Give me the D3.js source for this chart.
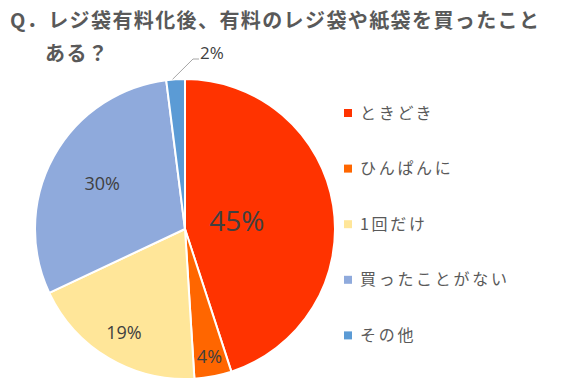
<!DOCTYPE html>
<html><head><meta charset="utf-8">
<script src="https://cdn.jsdelivr.net/npm/d3@7"></script>
<style>
html,body{margin:0;padding:0;background:#fff;}
svg{display:block;}
</style></head>
<body>
<svg id="chart" width="564" height="383"></svg>
<script>
const categories = ["ときどき", "ひんぱんに", "1回だけ", "買ったことがない", "その他"];
const values = [45, 4, 19, 30, 2];
const colors = ["#FF3300", "#FF6600", "#FFE699", "#8FAADC", "#5B9BD5"];
const titleLines = ["Q．レジ袋有料化後、有料のレジ袋や紙袋を買ったこと", "ある？"];

const svg = d3.select("#chart");
const cx = 185, cy = 229, r = 150;
const font = "'Noto Sans CJK JP', 'Noto Sans', sans-serif";
const numFont = "'Open Sans', 'Noto Sans', sans-serif";

// title
svg.append("text").attr("x", 10).attr("y", 28)
  .attr("font-family", font).attr("font-size", 20).attr("font-weight", "bold")
  .attr("letter-spacing", 1.4).attr("fill", "#595959").text(titleLines[0]);
svg.append("text").attr("x", 45).attr("y", 61)
  .attr("font-family", font).attr("font-size", 20).attr("font-weight", "bold")
  .attr("letter-spacing", 1.4).attr("fill", "#595959").text(titleLines[1]);

const pie = d3.pie().sort(null).value(d => d)(values);
const arc = d3.arc().innerRadius(0).outerRadius(r);
const g = svg.append("g").attr("transform", `translate(${cx},${cy})`);
g.selectAll("path").data(pie).join("path")
  .attr("d", arc).attr("fill", (d, i) => colors[i])
  .attr("stroke", "#fff").attr("stroke-width", 2).attr("stroke-linejoin", "round");

// labels
const labelPos = [
  {r: 0.35, size: 28},
  {r: 0.87, size: 18},
  {r: 0.80, size: 18},
  {r: 0.63, size: 18},
  null
];
const lblArc = (d, k) => d3.arc().innerRadius(r * k).outerRadius(r * k).centroid(d);
pie.forEach((d, i) => {
  const lp = labelPos[i];
  if (!lp) return;
  const [x, y] = lblArc(d, lp.r);
  g.append("text").attr("x", x).attr("y", y).attr("dy", "0.35em")
    .attr("text-anchor", "middle").attr("font-family", numFont)
    .attr("font-size", lp.size).attr("fill", "#404040").text(values[i] + "%");
});
// 2% with leader line
{
  const d = pie[4];
  const [x0, y0] = lblArc(d, 1.0);
  const lx = 193 - cx, ly = 59 - cy;
  g.append("polyline").attr("points", `${x0 - 3},${y0} ${lx},${ly} ${lx + 6},${ly}`)
    .attr("fill", "none").attr("stroke", "#A6A6A6").attr("stroke-width", 1);
  g.append("text").attr("x", lx + 7).attr("y", ly)
    .attr("font-family", numFont)
    .attr("font-size", 17).attr("fill", "#404040").text(values[4] + "%");
}

// legend
const ly0 = 113, lstep = 55.6;
const leg = svg.append("g");
categories.forEach((c, i) => {
  const y = ly0 + i * lstep;
  leg.append("rect").attr("x", 344).attr("y", y - 4).attr("width", 8).attr("height", 8).attr("fill", colors[i]);
  leg.append("text").attr("x", 360).attr("y", y).attr("dy", "0.35em")
    .attr("font-family", font).attr("font-size", 16).attr("letter-spacing", 2.7)
    .attr("fill", "#595959").text(c);
});
</script>
</body></html>
